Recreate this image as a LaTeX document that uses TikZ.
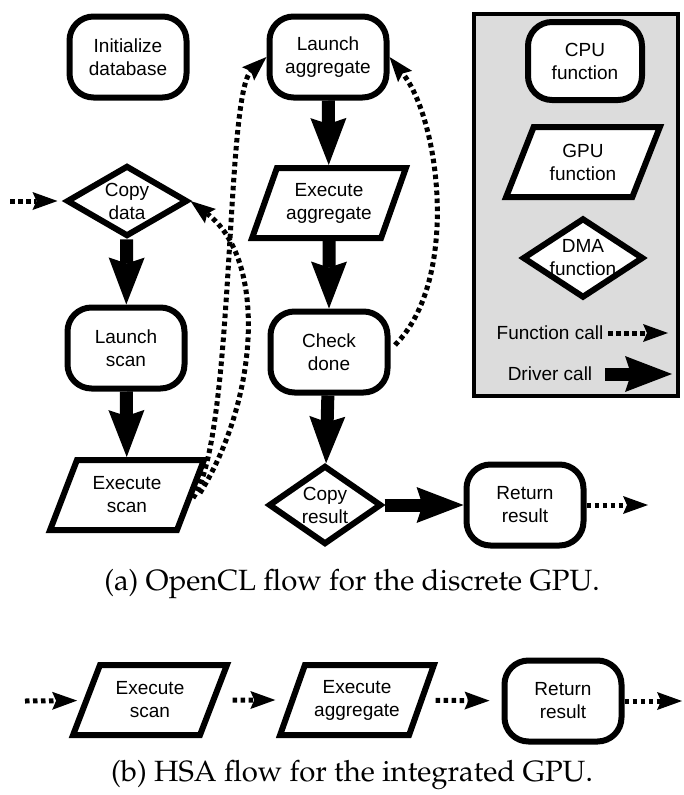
\documentclass[tikz,border=0pt]{standalone}
\usepackage{fontspec}
\setmainfont{Liberation Sans}
\usetikzlibrary{shapes.geometric,arrows.meta,calc}
\definecolor{legendgray}{RGB}{220,220,220}
\newcommand{\capfont}{\fontencoding{OT1}\fontfamily{ppl}\fontsize{29.3}{33}\selectfont}
\begin{document}
\begin{tikzpicture}[x=1pt,y=-1pt,
  every node/.style={font=\fontsize{19}{23}\selectfont, align=center},
  cpubox/.style={draw, fill=white, line width=6pt, rounded corners=24pt, minimum width=117pt, minimum height=81pt, inner sep=0pt},
  gpubox/.style={draw, fill=white, line width=6pt, trapezium, trapezium left angle=63, trapezium right angle=117, trapezium stretches=true, minimum width=154pt, minimum height=70pt, inner sep=0pt},
  dmabox/.style={draw, fill=white, line width=6pt, diamond, aspect=1.6, inner sep=-14pt},
  drv/.style={line width=13pt, -{Stealth[length=47pt,width=36pt,inset=6pt,line width=0pt]}},
  fcall/.style={line width=5pt, dash pattern=on 4.5pt off 3.5pt, -{Stealth[length=25pt,width=18pt,inset=4pt,line width=0pt]}},
  captext/.style={font=\capfont}
]
\useasboundingbox (0,0) rectangle (683,795);

% legend background
\draw[line width=4pt, fill=legendgray] (474,14) rectangle (678,396);

% main flow nodes
\node[cpubox] (init) at (128,57) {Initialize\\database};
\node[cpubox] (la) at (328,57) {Launch\\aggregate};
\node[dmabox, minimum width=121pt, minimum height=71pt] (cd) at (127,201) {Copy\\data};
\node[gpubox] (ea) at (329,203) {Execute\\aggregate};
\node[cpubox] (ls) at (126,348) {Launch\\scan};
\node[cpubox] (chk) at (329,352) {Check\\done};
\node[gpubox] (es) at (127,495) {Execute\\scan};
\node[dmabox, minimum width=113pt, minimum height=79pt] (cr) at (325,505) {Copy\\result};
\node[cpubox] (rr) at (525,505) {Return\\result};

% legend nodes
\node[cpubox, minimum width=114pt, minimum height=78pt] (lcpu) at (585,61) {CPU\\function};
\node[gpubox] (lgpu) at (583,162) {GPU\\function};
\node[dmabox, minimum width=121pt, minimum height=80pt] (ldma) at (583,258) {DMA\\function};
\node (lfc) at (550,333) {Function call};
\node (ldc) at (550,374) {Driver call};
\coordinate (fcA) at (608,333);
\coordinate (fcB) at (668,333);
\coordinate (dcA) at (605,374);
\coordinate (dcB) at (672,374);
\draw[fcall] (fcA) -- (fcB);
\draw[drv] (dcA) -- (dcB);

% driver calls
\draw[drv] (cd) -- (ls);
\draw[drv] (ls) -- (es);
\draw[drv] (la) -- (ea);
\draw[drv] (ea) -- (chk);
\draw[drv] (chk) -- (cr);
\draw[drv] (cr) -- (rr);

% function calls
\coordinate (in1) at (10,201);
\coordinate (out1) at (648,505);
\coordinate (sA) at (193,498);
\coordinate (sB) at (200,493);
\coordinate (sC) at (395,345);
\draw[fcall, shorten >=6pt] (in1) -- (cd);
\draw[fcall] (rr) -- (out1);
\draw[fcall] (sA) .. controls (235,440) and (225,95) .. (la.west);
\draw[fcall] (sB) .. controls (258,400) and (268,260) .. (cd.east);
\draw[fcall] (sC) .. controls (460,280) and (440,120) .. (la.east);

\node[captext] (capa) at (352,584) {(a) OpenCL flow for the discrete GPU.};

% (b) HSA flow
\node[gpubox] (es2) at (150,700) {Execute\\scan};
\node[gpubox] (ea2) at (357,700) {Execute\\aggregate};
\node[cpubox] (rr2) at (563,701) {Return\\result};
\coordinate (in2) at (25,701);
\coordinate (out2) at (682,701);
\draw[fcall, shorten >=6pt] (in2) -- (es2);
\draw[fcall, shorten <=16pt, shorten >=14pt] (es2) -- (ea2);
\draw[fcall, shorten <=11pt, shorten >=12pt] (ea2) -- (rr2);
\draw[fcall] (rr2) -- (out2);

\node[captext] (capb) at (352,775) {(b) HSA flow for the integrated GPU.};
\end{tikzpicture}
\end{document}
